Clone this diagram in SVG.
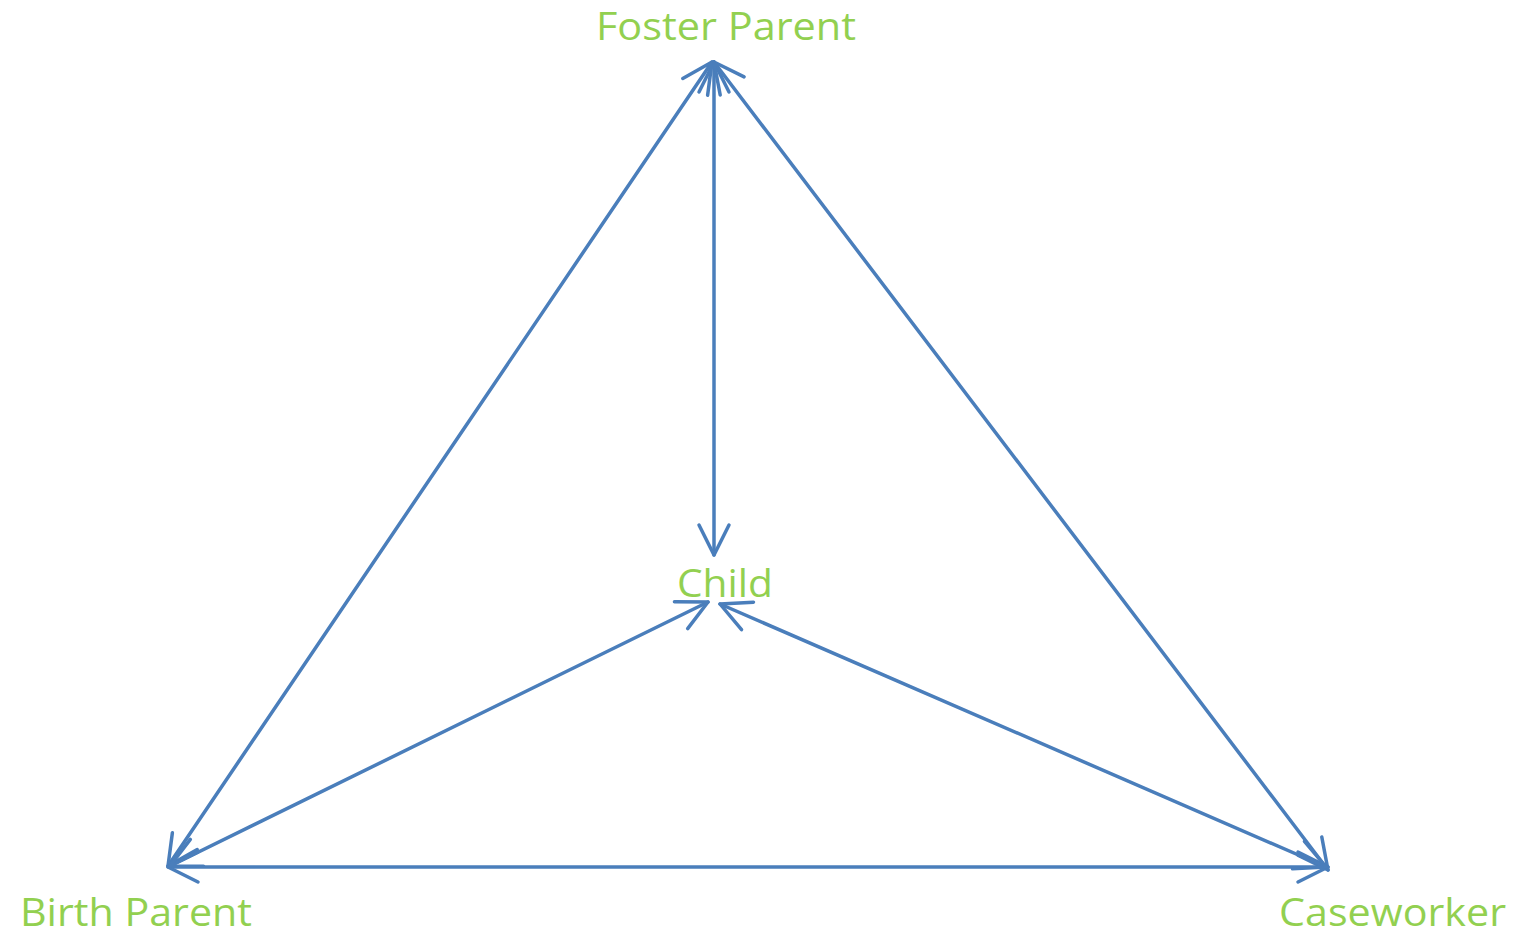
<svg xmlns="http://www.w3.org/2000/svg" width="1516" height="937" viewBox="0 0 1516 937">
<style>
.lbl{font-family:"Open Sans","Liberation Sans",sans-serif;font-size:38px;fill:#92d050}
.con{stroke:#4a7ebb;stroke-width:3.5;fill:none;stroke-linecap:round;marker-start:url(#ah);marker-end:url(#ah)}
</style>
<defs>
<marker id="ah" markerUnits="userSpaceOnUse" viewBox="-40 -20 50 40" refX="0" refY="0" markerWidth="50" markerHeight="40" orient="auto-start-reverse">
<path d="M -30,-15 L 0,0 L -30,15" fill="none" stroke="#4a7ebb" stroke-width="3.5" stroke-linecap="round" stroke-linejoin="round"/>
</marker>
</defs>
<rect width="1516" height="937" fill="#ffffff"/>
<g id="connectors">
<line class="con" x1="714" y1="62" x2="714" y2="555"/>
<line class="con" x1="712" y1="62" x2="168" y2="866"/>
<line class="con" x1="714" y1="62" x2="1328" y2="870"/>
<line class="con" x1="168" y1="867" x2="1328" y2="867"/>
<line class="con" x1="170" y1="866" x2="708" y2="602"/>
<line class="con" x1="1326" y1="867" x2="720" y2="604"/>
</g>
<g id="foster-parent"><text class="lbl" x="596" y="40" textLength="260" lengthAdjust="spacingAndGlyphs">Foster Parent</text></g>
<g id="child"><text class="lbl" x="677" y="597" textLength="96" lengthAdjust="spacingAndGlyphs">Child</text></g>
<g id="birth-parent"><text class="lbl" x="20" y="926" textLength="232" lengthAdjust="spacingAndGlyphs">Birth Parent</text></g>
<g id="caseworker"><text class="lbl" x="1279" y="926" textLength="227" lengthAdjust="spacingAndGlyphs">Caseworker</text></g>
</svg>
